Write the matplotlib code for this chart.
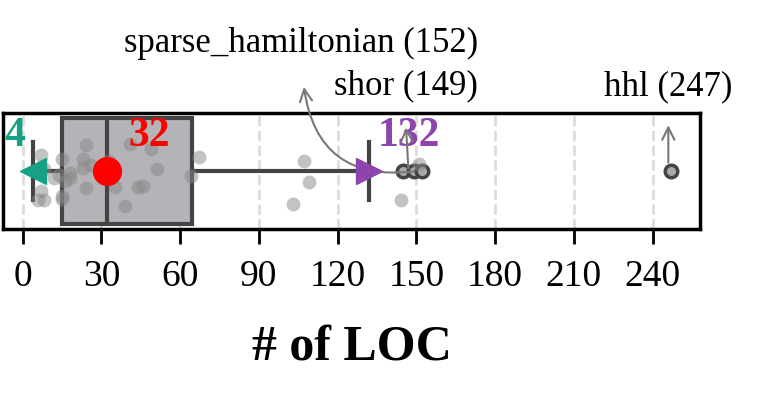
import numpy as np
import matplotlib
matplotlib.use("Agg")
import matplotlib.pyplot as plt

plt.rcParams['font.family'] = ['Liberation Serif', 'DejaVu Serif']

# summary stats of the LOC distribution
q1, med, q3 = 15, 32, 64.5
whislo, whishi = 4, 132
mean_loc = 32
fliers = [145, 149, 152, 247]

# individual programs (strip points)
loc_values = [6, 7, 7, 8, 8, 12, 14, 15, 15, 15, 16, 18, 18, 23, 23, 24, 24, 26,
              33, 35, 39, 41, 44, 46, 49, 51, 64, 67, 103, 107, 109, 144, 151]

# labelled outliers: (name, loc)
outlier_names = ["sparse_hamiltonian", "shor", "hhl"]
outlier_locs = [152, 149, 247]

ticks = [0, 30, 60, 90, 120, 150, 180, 210, 240]

teal = '#16a085'
purple = '#8e44ad'
dark = '#444444'

fig = plt.figure(figsize=(7.64, 3.97), dpi=100)
ax = fig.add_axes([0.004, 0.423, 0.912, 0.292])

ax.grid(axis='x', color='#dddddd', linestyle='--', linewidth=2, zorder=0)

stats = [dict(q1=q1, med=med, q3=q3, whislo=whislo, whishi=whishi,
              mean=mean_loc, fliers=fliers)]
ax.bxp(stats, positions=[0], widths=0.92, vert=False, patch_artist=True,
       showmeans=False, capwidths=0.5,
       boxprops=dict(facecolor='#b4b3b8', edgecolor=dark, linewidth=3),
       medianprops=dict(color=dark, linewidth=3),
       whiskerprops=dict(color=dark, linewidth=3),
       capprops=dict(color=dark, linewidth=3),
       flierprops=dict(marker='o', markersize=9, markerfacecolor='#aaaaaa',
                       markeredgecolor=dark, markeredgewidth=2.5))

jitter = np.random.default_rng(3).uniform(-0.3, 0.25, len(loc_values))
ax.plot(loc_values, jitter, 'o', color='#888888', alpha=0.5, markersize=10,
        markeredgewidth=0, zorder=3)

ax.plot([mean_loc], [0], 'o', color='red', markersize=20, zorder=5)
ax.plot([whislo], [0], '<', color=teal, markersize=19, zorder=5)
ax.plot([whishi], [0], '>', color=purple, markersize=19, zorder=5)

ax.text(-3, 0.3, str(whislo), color=teal, fontsize=30, fontweight='bold',
        ha='center', va='center')
ax.text(48, 0.3, str(mean_loc), color='red', fontsize=30, fontweight='bold',
        ha='center', va='center')
ax.text(147, 0.3, str(whishi), color=purple, fontsize=30, fontweight='bold',
        ha='center', va='center')

arrow = dict(arrowstyle='->', color='#777777', lw=1.5, mutation_scale=22)
# sparse_hamiltonian: curved arrow to a label above the axes
ax.annotate('', xy=(107, 0.75), xytext=(outlier_locs[0] - 2, 0),
            arrowprops=dict(arrow, connectionstyle='arc3,rad=-0.5'),
            annotation_clip=False)
ax.text(106, 1.1, f"{outlier_names[0]} ({outlier_locs[0]})", fontsize=25,
        ha='center', va='center')
ax.annotate('', xy=(outlier_locs[1] - 3, 0.4), xytext=(outlier_locs[1] - 2, 0),
            arrowprops=arrow, annotation_clip=False)
ax.text(146, 0.74, f"{outlier_names[1]} ({outlier_locs[1]})", fontsize=25,
        ha='center', va='center')
ax.annotate('', xy=(outlier_locs[2] - 1, 0.42), xytext=(outlier_locs[2] - 1, 0.05),
            arrowprops=arrow, annotation_clip=False)
ax.text(246, 0.73, f"{outlier_names[2]} ({outlier_locs[2]})", fontsize=25,
        ha='center', va='center')

ax.set_xlim(-7.5, 258)
ax.set_ylim(-0.5, 0.5)
ax.set_yticks([])
ax.set_xticks(ticks)
ax.tick_params(axis='x', labelsize=27, length=11, width=2, pad=11)
for s in ax.spines.values():
    s.set_linewidth(2.5)
ax.set_xlabel('# of LOC', fontsize=36, fontweight='bold', labelpad=22)

fig.savefig('out.png', dpi=100)
